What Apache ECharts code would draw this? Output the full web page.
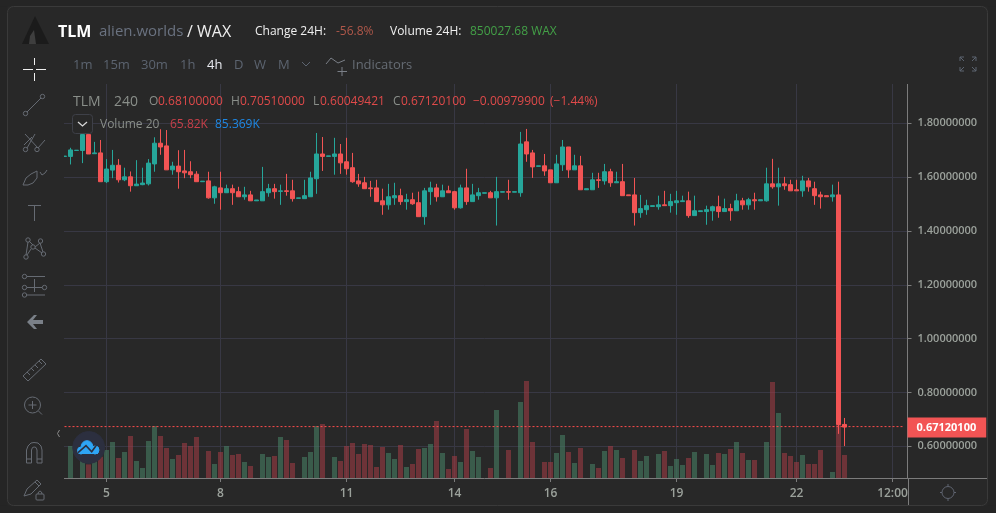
<!DOCTYPE html>
<html><head><meta charset="utf-8">
<style>html,body{margin:0;padding:0;background:#252525;overflow:hidden}#c{width:996px;height:513px}</style>
<script src="https://cdn.jsdelivr.net/npm/echarts@6/dist/echarts.min.js"></script>
</head><body><div id="c"></div>
<script>
const opens=[1.677,1.677,1.699,1.699,1.758,1.687,1.690,1.583,1.626,1.644,
1.590,1.601,1.568,1.572,1.575,1.649,1.726,1.716,1.627,1.641,
1.623,1.620,1.611,1.583,1.586,1.523,1.560,1.542,1.557,1.546,
1.527,1.534,1.512,1.512,1.542,1.557,1.547,1.549,1.549,1.521,
1.520,1.527,1.594,1.686,1.677,1.677,1.686,1.657,1.635,1.586,
1.579,1.560,1.560,1.512,1.497,1.523,1.531,1.509,1.516,1.505,
1.453,1.546,1.560,1.527,1.549,1.546,1.486,1.560,1.509,1.531,
1.540,1.542,1.523,1.544,1.546,1.544,1.542,1.731,1.690,1.640,
1.642,1.627,1.579,1.646,1.712,1.627,1.642,1.553,1.553,1.590,
1.586,1.620,1.579,1.583,1.534,1.534,1.468,1.479,1.491,1.490,
1.497,1.494,1.505,1.509,1.512,1.457,1.472,1.472,1.475,1.490,
1.472,1.483,1.475,1.512,1.497,1.516,1.512,1.512,1.575,1.564,
1.575,1.572,1.553,1.549,1.586,1.557,1.534,1.531,1.527,1.534,
0.681];
const closes=[1.678,1.701,1.700,1.758,1.686,1.690,1.583,1.630,1.644,1.590,
1.601,1.568,1.574,1.578,1.652,1.726,1.712,1.627,1.641,1.620,
1.616,1.609,1.583,1.585,1.523,1.564,1.542,1.557,1.542,1.527,
1.534,1.512,1.515,1.546,1.557,1.546,1.549,1.547,1.520,1.523,
1.531,1.597,1.686,1.677,1.679,1.686,1.653,1.631,1.583,1.575,
1.557,1.557,1.509,1.497,1.527,1.531,1.509,1.516,1.501,1.453,
1.549,1.560,1.527,1.549,1.542,1.486,1.560,1.509,1.534,1.542,
1.542,1.523,1.546,1.546,1.544,1.546,1.723,1.686,1.638,1.642,
1.623,1.579,1.649,1.712,1.627,1.642,1.553,1.557,1.590,1.588,
1.620,1.579,1.583,1.531,1.531,1.468,1.483,1.494,1.494,1.497,
1.494,1.509,1.512,1.512,1.457,1.475,1.475,1.479,1.490,1.472,
1.483,1.475,1.512,1.497,1.516,1.512,1.516,1.575,1.564,1.575,
1.568,1.549,1.549,1.586,1.564,1.531,1.527,1.527,1.534,0.681,
0.6712];
const lows=[1.677,1.647,1.699,1.652,1.686,1.687,1.583,1.578,1.596,1.580,
1.585,1.546,1.568,1.570,1.569,1.620,1.683,1.627,1.609,1.557,
1.596,1.596,1.583,1.583,1.520,1.501,1.479,1.541,1.497,1.526,
1.516,1.512,1.512,1.512,1.527,1.520,1.497,1.531,1.509,1.521,
1.520,1.527,1.538,1.623,1.677,1.609,1.612,1.609,1.579,1.564,
1.557,1.527,1.509,1.460,1.479,1.497,1.497,1.479,1.497,1.453,
1.423,1.497,1.509,1.527,1.542,1.479,1.483,1.497,1.509,1.516,
1.540,1.523,1.420,1.544,1.516,1.544,1.527,1.657,1.597,1.640,
1.605,1.579,1.579,1.623,1.597,1.627,1.553,1.553,1.553,1.560,
1.572,1.564,1.579,1.531,1.531,1.420,1.449,1.460,1.491,1.479,
1.494,1.468,1.460,1.509,1.449,1.457,1.472,1.423,1.438,1.449,
1.472,1.438,1.475,1.479,1.479,1.479,1.512,1.509,1.557,1.494,
1.553,1.549,1.549,1.527,1.546,1.497,1.483,1.527,1.509,0.646,
0.6005];
const highs=[1.678,1.709,1.700,1.758,1.758,1.731,1.738,1.667,1.701,1.667,
1.635,1.621,1.663,1.635,1.667,1.748,1.778,1.775,1.657,1.700,
1.701,1.659,1.622,1.585,1.620,1.568,1.620,1.572,1.572,1.564,
1.564,1.549,1.515,1.638,1.575,1.575,1.572,1.612,1.590,1.523,
1.590,1.620,1.764,1.749,1.679,1.746,1.723,1.746,1.690,1.612,
1.601,1.586,1.590,1.557,1.575,1.579,1.557,1.538,1.542,1.546,
1.560,1.583,1.575,1.572,1.568,1.549,1.572,1.631,1.575,1.560,
1.542,1.549,1.601,1.546,1.590,1.546,1.768,1.779,1.701,1.642,
1.686,1.627,1.683,1.738,1.712,1.683,1.679,1.557,1.616,1.616,
1.649,1.631,1.620,1.649,1.534,1.597,1.534,1.516,1.494,1.531,
1.549,1.538,1.549,1.531,1.546,1.531,1.475,1.494,1.494,1.531,
1.520,1.501,1.538,1.523,1.523,1.542,1.516,1.635,1.668,1.635,
1.601,1.590,1.590,1.605,1.597,1.583,1.546,1.531,1.572,1.583,
0.7051];
const volumes=[0,91.6,0,56.3,39.1,48.7,61.1,80.1,103.0,57.2,
74.4,120.2,48.7,28.6,105.9,148.8,120.2,85.9,54.4,65.8,
100.2,91.6,117.3,0,77.3,40.1,74.4,91.6,65.8,68.7,
45.8,34.3,0,68.7,60.1,63.0,117.3,108.8,42.9,0,
60.1,74.4,148.8,154.5,0,60.1,48.7,91.6,100.2,68.7,
97.3,94.4,31.5,88.7,71.6,54.4,94.4,31.5,40.1,83.0,
85.9,97.3,163.1,71.6,25.8,63.0,45.8,140.2,77.3,60.1,
0,28.6,194.6,0,80.1,0,217.5,277.6,103.0,0,
45.8,45.8,71.6,123.1,74.4,42.9,85.9,0,40.1,28.6,
77.3,91.6,80.1,57.2,0,80.1,48.7,63.0,0,68.7,
77.3,34.3,54.4,37.2,57.2,74.4,0,68.7,37.2,71.6,
68.7,83.0,103.0,71.6,51.5,51.5,0,103.0,274.8,186.0,
71.6,63.0,45.8,65.8,40.1,40.1,80.1,0,17.2,161.2,
65.82];
const xTickSlots=[7,26,47,65,81,102,122,138];
const xTickLabels=['5','8','11','14','16','19','22','12:00'];
const yTicks=[0.6,0.8,1.0,1.2,1.4,1.6,1.8];
const lastPriceText='0.67120100';
const priceLineLevel=0.673;
const slotCount=141;

const UP='#26a69a',DOWN='#f25454',BG='#282828',GRID='#383844',AX='#7c7c7c',LBL='#9ba19b',ICON='#666b73';
const categories=Array.from({length:slotCount},(_,i)=>{const n=xTickSlots.indexOf(i);return n>=0?xTickLabels[n]:'';});
const candleData=opens.map((o,i)=>[o,closes[i],lows[i],highs[i]]);
const volumeData=volumes.map((v,i)=>({value:v,itemStyle:{color:closes[i]>=opens[i]?'rgba(70,125,98,0.6)':'rgba(165,60,70,0.55)'}}));
const showTick=(i,v)=>v!=='';
const FF='"Open Sans",sans-serif';

const Z=100;
function T(text,x,y,fill,size,weight){return {type:'text',z:Z,silent:true,style:{text,x,y:y+1,fill,font:(weight||'normal')+' '+size+'px '+FF,textVerticalAlign:'middle',textBaseline:'middle'}};}
function L(x1,y1,x2,y2,c,w){return {type:'line',z:Z,silent:true,shape:{x1,y1,x2,y2},style:{stroke:c||ICON,lineWidth:w||1,fill:null}};}
function C(cx,cy,r,c,fill,w){return {type:'circle',z:Z,silent:true,shape:{cx,cy,r},style:{stroke:c||ICON,lineWidth:w||1,fill:fill||'transparent'}};}
function R(x,y,width,height,fill,stroke,r){return {type:'rect',z:Z-1,silent:true,shape:{x,y,width,height,r:r||0},style:{fill:fill||'transparent',stroke:stroke||null,lineWidth:1}};}
function PG(points,fill,stroke){return {type:'polygon',z:Z,silent:true,shape:{points},style:{fill:fill||'transparent',stroke:fill?(stroke||null):(stroke||ICON),lineWidth:1}};}
function PL(points,c,w){return {type:'polyline',z:Z,silent:true,shape:{points},style:{stroke:c||ICON,lineWidth:w||1,fill:null}};}

const W='#f0f0f0',G2='#5c6470',RD='#e04a4a';
const gfx=[
 // panels outside the plot
 R(0,0,64,513,BG),R(64,0,932,84,BG),
 R(0,0,7.5,513,'#252525'),R(987.5,0,9,513,'#252525'),R(0,0,996,6.5,'#252525'),R(0,505.5,996,8,'#252525'),
 R(7.5,6.5,980,499,'transparent','#3a3a3a',6),
 L(908.5,478,908.5,505,AX),L(908,478.5,987,478.5,AX),
 // header
 PG([[35,16],[49,44],[22,44]],'#1b1b1b'),
 PG([[30,36],[34,30],[36,44],[29,44]],'#3e3e3e'),
 T('TLM',58,31,'#ffffff',16,'bold'),T('alien.worlds',99,31,'#6a7280',15),T('/ WAX',187,31,'#eeeeee',16),
 T('Change 24H:',255,31,'#f0f0f0',12),T('-56.8%',336,31,'#b0584a',12),
 T('Volume 24H:',390,31,'#f0f0f0',12),T('850027.68 WAX',470,31,'#43a047',12),
 // timeframes
 T('1m',73,64,G2,13),T('15m',103,64,G2,13),T('30m',141,64,G2,13),T('1h',180,64,G2,13),T('4h',207,64,'#e8eaf0',13),
 T('D',234,64,G2,13),T('W',254,64,G2,13),T('M',278,64,G2,13),
 PL([[302,62],[306,66],[310,62]],G2),
 PL([[326,64],[331,58],[338,63],[345,60]],'#7a7f87'),L(342,67,342,76,'#7a7f87'),L(337.5,71.5,347,71.5,'#7a7f87'),
 T('Indicators',352,64,'#666c74',13),
 // fullscreen
 PL([[960,61],[960,57],[964,57]],G2),L(960,57,964,61,G2),PL([[972,57],[976,57],[976,61]],G2),L(976,57,972,61,G2),
 PL([[960,67],[960,71],[964,71]],G2),L(960,71,964,67,G2),PL([[972,71],[976,71],[976,67]],G2),L(976,71,972,67,G2),
 // legend
 T('TLM',73,101,'#8a8f8a',14),T('240',114,101,'#8a8f8a',14),
 T('O',149,101,'#8a8f8a',12),T('0.68100000',158,101,RD,12),
 T('H',231,101,'#8a8f8a',12),T('0.70510000',240,101,RD,12),
 T('L',313,101,'#8a8f8a',12),T('0.60049421',320,101,RD,12),
 T('C',393,101,'#8a8f8a',12),T('0.67120100',401,101,RD,12),
 T('\u22120.00979900',473,101,RD,12),T('(\u22121.44%)',550,101,RD,12),
 R(72.5,114.5,20,19,BG,'#3e4048',3),PL([[78,122],[82.5,126],[87,122]],'#d8d8d8',1.3),
 T('Volume 20',100,124,'#8a8f8a',12),T('65.82K',170,124,'#c8404a',12),T('85.369K',215,124,'#1e88e5',12),
 // left toolbar
 L(23,69.5,33,69.5,W),L(36,69.5,46,69.5,W),L(34.5,58,34.5,65,W),L(34.5,73,34.5,81,W),
 C(25.5,113.5,2.2),C(42.5,96.5,2.2),L(27,112,41,98),
 C(25.5,149.5,2.2),C(37,149.5,2.2),L(27,148,35,134),L(24,145,32,137),L(38,148,45,140),L(25,134,38,148),
 PG([[23,185],[26,178],[31,174],[37,171],[37,178],[33,183],[28,185]]),PL([[40,172],[42,175],[45,173],[47,170]]),
 L(28,205.5,41,205.5),L(34.5,205.5,34.5,221),
 C(28,240,2.2),C(40.5,241,2.2),C(33,247,2.2),C(26,257,2.2),C(43.5,254,2.2),
 L(28,242,26,255),L(29,241,33,245),L(40,243,35,247),L(40,243,43,252),L(35,248,42,253),L(31,249,27,255),
 C(24.5,276.5,2.2),C(24.5,287.5,2.2),C(44.5,287.5,2.2),C(24.5,295,2.2),
 L(27,276.5,45,276.5),L(27,287.5,42,287.5),L(27,295,45,295),L(34.5,279,34.5,292),
 PG([[27,322],[34,315],[37,315],[33,320],[43,320],[43,324],[33,324],[37,329],[34,329]],'#7a8088'),
 PG([[23,376],[41,359],[46,364],[28,381]]),L(27,372,30,375),L(31,368,34,371),L(35,365,38,368),L(39,361,42,364),
 C(32.5,405,8),L(38.5,411,42,414.5),L(32.5,401,32.5,409),L(28.5,405,36.5,405),
 PG([[26.5,463],[26.5,450],[28,446],[31,443],[34,442.5],[38,443],[41,446],[42,450],[42,463],[37,463],[37,450],[36,447.5],[34.2,447],[32.5,447.5],[31.5,450],[31.5,463]]),L(26.5,459,31.5,459),L(37,459,42,459),
 PG([[24,496],[27,489],[37,480],[41,484],[31,494]]),L(35,482,39,486),
 R(36,494,8,6,'transparent',ICON,1),PL([[38,494],[38.5,492],[40,491],[41.5,492],[42,494]]),
 PL([[59.5,430],[57.5,433.5],[59.5,437]],'#8a8a8a'),
 // settings sun
 C(948,492.5,6,'#5f6470'),L(948,484,948,486,'#5f6470'),L(948,499,948,501,'#5f6470'),L(940,492.5,942,492.5,'#5f6470'),L(954,492.5,956,492.5,'#5f6470'),
 // floating cloud
 C(88.7,447.5,16,'#2c2f3f','#2c2f3f'),
 C(87,446.5,5.8,'#2ea5f5','#2ea5f5'),C(81,450.5,3.5,'#2ea5f5','#2ea5f5'),C(95,450,4,'#2ea5f5','#2ea5f5'),
 PG([[79,454],[79,449],[98,449],[98,454]],'#2ea5f5'),
 PL([[78,452.7],[86,445.7],[91.7,451.7],[96,445.7]],'#2c2f3f',1.6)
];

const chart=echarts.init(document.getElementById('c'),null,{renderer:'canvas'});
chart.setOption({
 animation:false,backgroundColor:BG,
 grid:{left:61.5,width:846,top:84,height:394,containLabel:false},
 xAxis:{type:'category',data:categories,boundaryGap:true,
  axisLine:{show:true,lineStyle:{color:AX}},
  axisTick:{show:true,alignWithLabel:true,interval:showTick,length:4,lineStyle:{color:AX}},
  axisLabel:{interval:showTick,color:LBL,fontFamily:FF,fontSize:12,fontWeight:600,margin:10,hideOverlap:false},
  splitLine:{show:true,alignWithLabel:true,interval:showTick,lineStyle:{color:GRID}}},
 yAxis:[
  {type:'value',position:'right',min:0.482,max:1.946,scale:true,
   axisLine:{show:true,lineStyle:{color:AX}},
   axisTick:{show:true,length:4,customValues:yTicks,lineStyle:{color:AX}},
   axisLabel:{customValues:yTicks,formatter:v=>v.toFixed(8),color:LBL,fontFamily:FF,fontSize:11,fontWeight:600,margin:10,padding:[2,0,0,0]},
   splitLine:{show:true,lineStyle:{color:GRID}}},
  {type:'value',min:0,max:1127.5,show:false,splitLine:{show:false}}
 ],
 series:[
  {type:'bar',yAxisIndex:1,data:volumeData,barWidth:5,z:1,silent:true},
  {type:'candlestick',yAxisIndex:0,data:candleData,barWidth:5,z:3,silent:true,
   itemStyle:{color:UP,color0:DOWN,borderColor:UP,borderColor0:DOWN,borderWidth:1}},
  {type:'line',yAxisIndex:0,data:categories.map(()=>priceLineLevel),z:4,silent:true,showSymbol:false,symbol:'none',clip:false,
   lineStyle:{color:'#ff4d4d',type:[2,2],width:1,opacity:1},
   itemStyle:{color:'#ff4d4d'},
   markLine:{silent:true,symbol:'none',animation:false,z:4,
    lineStyle:{color:'transparent',width:0},
    label:{show:true,opacity:1,position:'end',distance:0,formatter:()=>lastPriceText,backgroundColor:DOWN,color:'#fff',fontFamily:FF,fontSize:11,fontWeight:'bold',padding:[5,10,4,9]},
    data:[{yAxis:priceLineLevel}]}}
 ],
 graphic:{elements:gfx}
});
</script></body></html>
